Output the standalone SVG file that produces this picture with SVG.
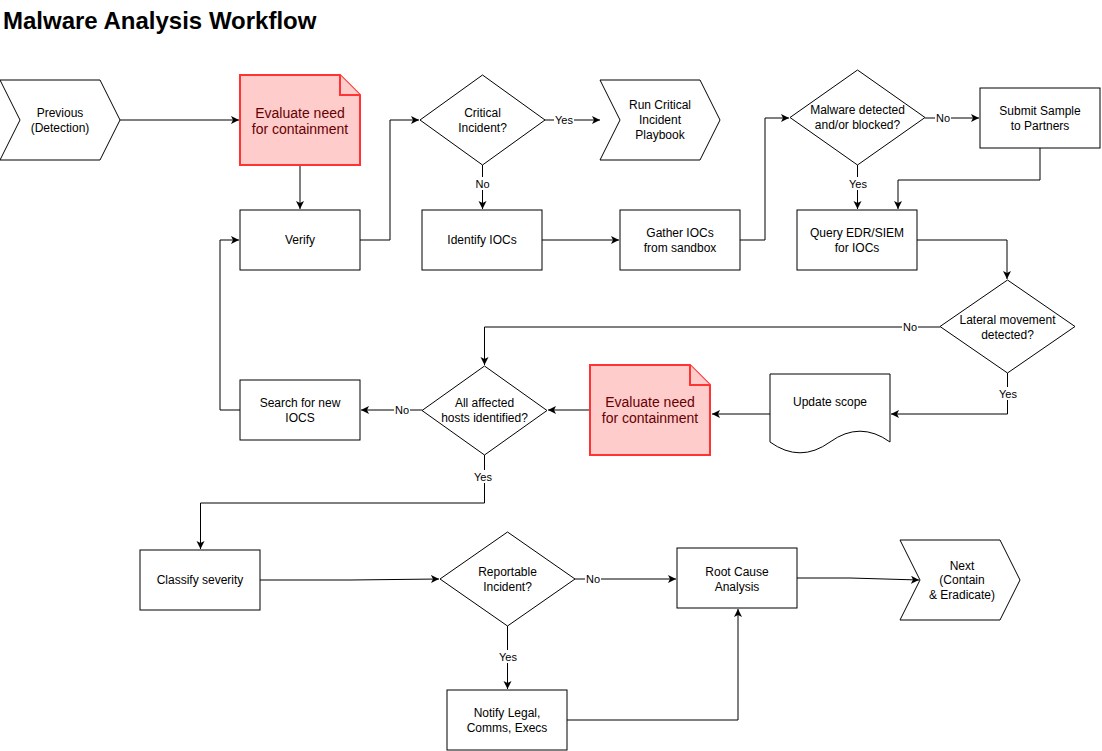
<svg xmlns="http://www.w3.org/2000/svg" width="1102" height="751" viewBox="0 0 1102 751">
<style>
.n{fill:#fff;stroke:#000;stroke-width:1}
.r{fill:#ffcccc;stroke:#ff3333;stroke-width:2}
.t{font-family:"Liberation Sans",Arial,sans-serif;font-size:12px;fill:#000;text-anchor:middle}
.tr{font-family:"Liberation Sans",Arial,sans-serif;font-size:14px;fill:#660000;text-anchor:middle}
.c{fill:none;stroke:#000;stroke-width:1}
.lb{font-family:"Liberation Sans",Arial,sans-serif;font-size:11px;fill:#000;text-anchor:middle}
.bg{fill:#fff}
</style>
<defs>
<marker id="a" markerWidth="10" markerHeight="10" refX="8" refY="4" orient="auto" markerUnits="userSpaceOnUse">
<path d="M0,0 L8,4 L0,8 L2,4 z" fill="#000"/>
</marker>
</defs>
<rect width="1102" height="751" fill="#fff"/>
<text x="3" y="29" font-family="Liberation Sans,Arial,sans-serif" font-size="24" font-weight="bold" fill="#000">Malware Analysis Workflow</text>

<g id="connectors">
<path class="c" marker-end="url(#a)" d="M120,120 L239,120"/>
<path class="c" marker-end="url(#a)" d="M300,166 L300,209"/>
<path class="c" marker-end="url(#a)" d="M360,240 L390,240 L390,120 L419,120"/>
<path class="c" marker-end="url(#a)" d="M545,120 L600,120"/>
<path class="c" marker-end="url(#a)" d="M482.5,165 L482.5,209"/>
<path class="c" marker-end="url(#a)" d="M542,240 L619,240"/>
<path class="c" marker-end="url(#a)" d="M740,240 L765,240 L765,118 L789,118"/>
<path class="c" marker-end="url(#a)" d="M925,118 L979,118"/>
<path class="c" marker-end="url(#a)" d="M857.5,165 L857.5,209"/>
<path class="c" marker-end="url(#a)" d="M1040,148 L1040,180 L898,180 L898,209"/>
<path class="c" marker-end="url(#a)" d="M917,240 L1007,240 L1007,279"/>
<path class="c" marker-end="url(#a)" d="M940,327 L484.5,327 L484.5,365"/>
<path class="c" marker-end="url(#a)" d="M1007.5,373 L1007.5,414 L891,414"/>
<path class="c" marker-end="url(#a)" d="M770,414 L712,414"/>
<path class="c" marker-end="url(#a)" d="M590,410 L548,410"/>
<path class="c" marker-end="url(#a)" d="M422,410 L361,410"/>
<path class="c" marker-end="url(#a)" d="M240,410 L220,410 L220,240 L239,240"/>
<path class="c" marker-end="url(#a)" d="M484.5,455 L484.5,503 L200.5,503 L200.5,549"/>
<path class="c" marker-end="url(#a)" d="M260,580 L350,580 L439,579"/>
<path class="c" marker-end="url(#a)" d="M575,579 L676,579"/>
<path class="c" marker-end="url(#a)" d="M507.5,626 L507.5,689"/>
<path class="c" marker-end="url(#a)" d="M567,720 L738,720 L738,609"/>
<path class="c" marker-end="url(#a)" d="M797,578 L850,578 L919,580"/>
<g id="labels">
<rect class="bg" x="554" y="114" width="20" height="13"/><text class="lb" x="564" y="124">Yes</text>
<rect class="bg" x="475" y="177" width="15" height="13"/><text class="lb" x="482.5" y="188">No</text>
<rect class="bg" x="935" y="111" width="16" height="13"/><text class="lb" x="943" y="122">No</text>
<rect class="bg" x="848" y="177" width="20" height="13"/><text class="lb" x="858" y="188">Yes</text>
<rect class="bg" x="902" y="320" width="16" height="13"/><text class="lb" x="910" y="331">No</text>
<rect class="bg" x="998" y="387" width="20" height="13"/><text class="lb" x="1008" y="398">Yes</text>
<rect class="bg" x="394" y="403" width="16" height="13"/><text class="lb" x="402" y="414">No</text>
<rect class="bg" x="473" y="470" width="20" height="13"/><text class="lb" x="483" y="481">Yes</text>
<rect class="bg" x="585" y="572" width="16" height="13"/><text class="lb" x="593" y="583">No</text>
<rect class="bg" x="498" y="650" width="20" height="13"/><text class="lb" x="508" y="661">Yes</text>
</g>
</g>

<g id="previous">
<polygon class="n" points="0,80 100,80 120,120 100,160 0,160 20,120"/>
<text class="t" x="60" y="117">Previous</text>
<text class="t" x="60" y="132">(Detection)</text>
</g>
<g id="evaluate1">
<path class="r" d="M240,75 L340,75 L360,95 L360,165 L240,165 Z"/>
<path class="r" d="M340,75 L340,95 L360,95"/>
<text class="tr" x="300" y="118">Evaluate need</text>
<text class="tr" x="300" y="134">for containment</text>
</g>
<g id="verify">
<rect class="n" x="240" y="210" width="120" height="60"/>
<text class="t" x="300" y="244">Verify</text>
</g>
<g id="critical">
<polygon class="n" points="482.5,75 545,120 482.5,165 420,120"/>
<text class="t" x="482.5" y="117">Critical</text>
<text class="t" x="482.5" y="132">Incident?</text>
</g>
<g id="playbook">
<polygon class="n" points="600,80 700,80 720,120 700,160 600,160 620,120"/>
<text class="t" x="660" y="109">Run Critical</text>
<text class="t" x="660" y="124">Incident</text>
<text class="t" x="660" y="139">Playbook</text>
</g>
<g id="identify">
<rect class="n" x="422" y="210" width="120" height="60"/>
<text class="t" x="482" y="244">Identify IOCs</text>
</g>
<g id="gather">
<rect class="n" x="620" y="210" width="120" height="60"/>
<text class="t" x="680" y="237">Gather IOCs</text>
<text class="t" x="680" y="252">from sandbox</text>
</g>
<g id="malware">
<polygon class="n" points="857.5,70 925,117.5 857.5,165 790,117.5"/>
<text class="t" x="857.5" y="114">Malware detected</text>
<text class="t" x="857.5" y="129">and/or blocked?</text>
</g>
<g id="submit">
<rect class="n" x="980" y="88" width="120" height="60"/>
<text class="t" x="1040" y="115">Submit Sample</text>
<text class="t" x="1040" y="130">to Partners</text>
</g>
<g id="query">
<rect class="n" x="797" y="210" width="120" height="60"/>
<text class="t" x="857" y="237">Query EDR/SIEM</text>
<text class="t" x="857" y="252">for IOCs</text>
</g>
<g id="lateral">
<polygon class="n" points="1007.5,280 1075,326.5 1007.5,373 940,326.5"/>
<text class="t" x="1007.5" y="324">Lateral movement</text>
<text class="t" x="1007.5" y="339">detected?</text>
</g>
<g id="update">
<path class="n" d="M770,374 L890,374 L890,442 Q860,420.4 830,442 Q800,463.6 770,442 Z"/>
<text class="t" x="830" y="406">Update scope</text>
</g>
<g id="evaluate2">
<path class="r" d="M590,365 L690,365 L710,385 L710,455 L590,455 Z"/>
<path class="r" d="M690,365 L690,385 L710,385"/>
<text class="tr" x="650" y="407">Evaluate need</text>
<text class="tr" x="650" y="423">for containment</text>
</g>
<g id="allaffected">
<polygon class="n" points="484.5,366 547,410.5 484.5,455 422,410.5"/>
<text class="t" x="484.5" y="407">All affected</text>
<text class="t" x="484.5" y="422">hosts identified?</text>
</g>
<g id="search">
<rect class="n" x="240" y="380" width="120" height="60"/>
<text class="t" x="300" y="407">Search for new</text>
<text class="t" x="300" y="422">IOCS</text>
</g>
<g id="classify">
<rect class="n" x="140" y="550" width="120" height="60"/>
<text class="t" x="200" y="584">Classify severity</text>
</g>
<g id="reportable">
<polygon class="n" points="507.5,532 575,579 507.5,626 440,579"/>
<text class="t" x="507.5" y="576">Reportable</text>
<text class="t" x="507.5" y="591">Incident?</text>
</g>
<g id="rootcause">
<rect class="n" x="677" y="548" width="120" height="60"/>
<text class="t" x="737" y="576">Root Cause</text>
<text class="t" x="737" y="591">Analysis</text>
</g>
<g id="notify">
<rect class="n" x="447" y="690" width="120" height="60"/>
<text class="t" x="507" y="717">Notify Legal,</text>
<text class="t" x="507" y="732">Comms, Execs</text>
</g>
<g id="next">
<polygon class="n" points="900,540 1000,540 1020,580 1000,620 900,620 920,580"/>
<text class="t" x="962" y="570">Next</text>
<text class="t" x="962" y="584">(Contain</text>
<text class="t" x="962" y="599">&amp; Eradicate)</text>
</g>
</svg>
